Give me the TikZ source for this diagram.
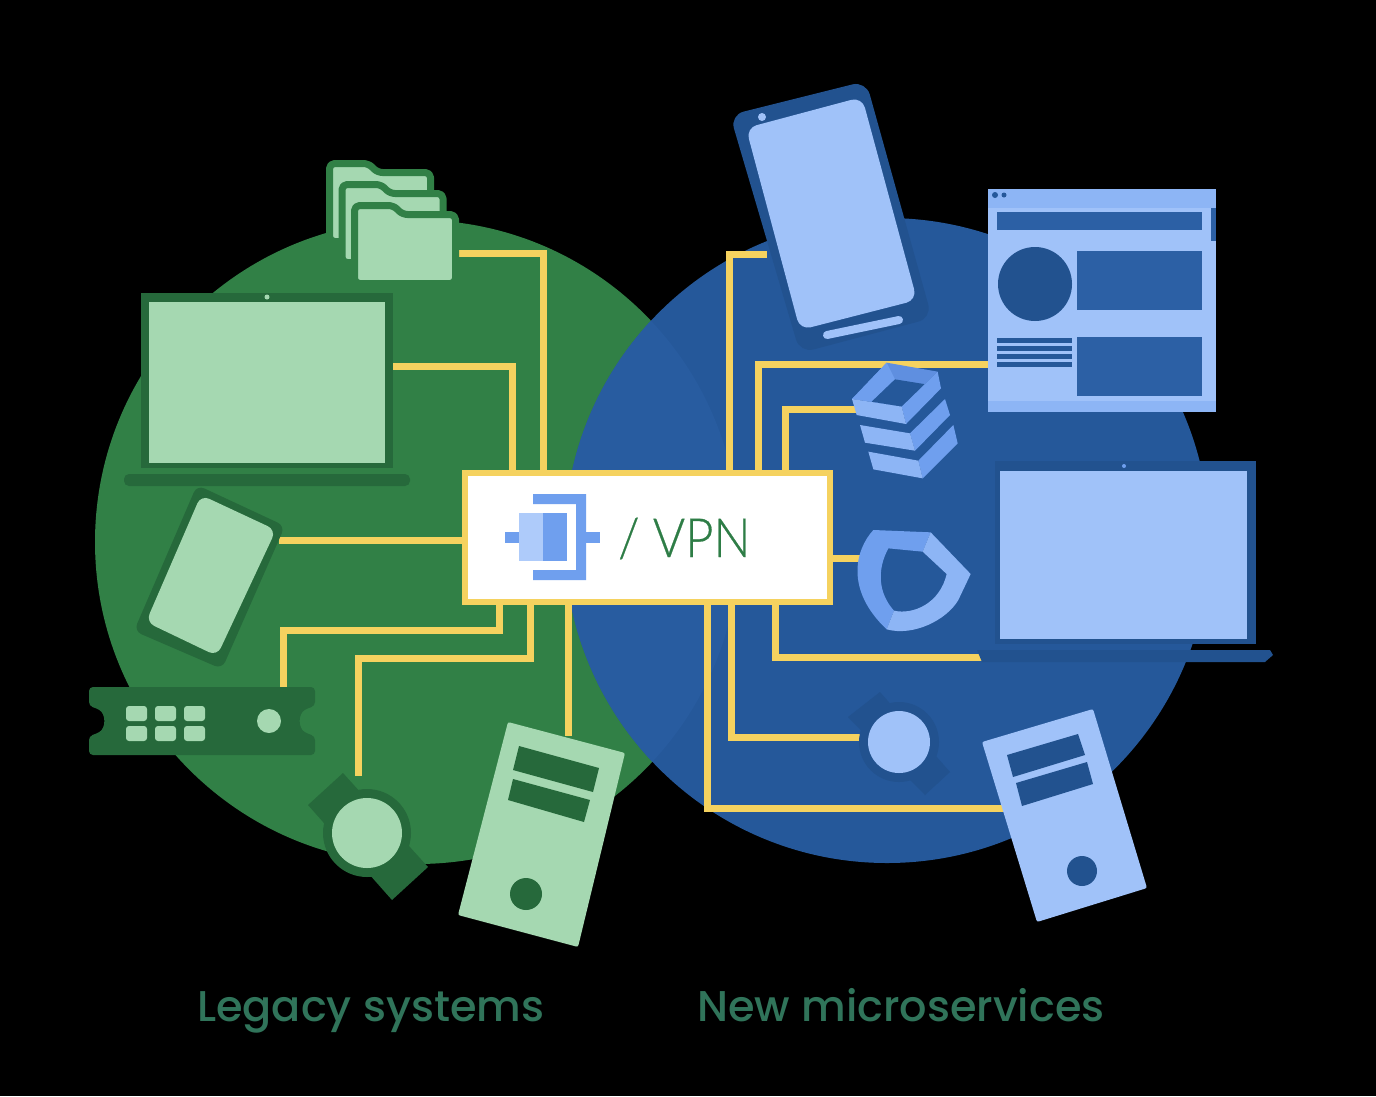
\documentclass[tikz,border=0pt]{standalone}
\usepackage{fontspec}
\setmainfont{Lato}
\newfontfamily\lblfont{Poppins Medium}
\newfontfamily\vpnfont[FakeBold=0.5]{Lato Light}
\begin{document}
\begin{tikzpicture}[x=1pt,y=-1pt,
  wire/.style={draw=wireyellow,line width=7pt,line join=miter},
  grn/.style={fill=greenc},
  grnd/.style={fill=greend},
  grnl/.style={fill=greenl},
  blu/.style={fill=bluec},
  blud/.style={fill=blued},
  blul/.style={fill=bluel},
  blum/.style={fill=bluem},
  bluf/.style={fill=bluef},
  lbl/.style={font=\lblfont\fontsize{43}{43}\selectfont,text=labelc,anchor=base west,inner sep=0pt},
  vpnbox/.style={draw=wireyellow,fill=white,line width=6pt,minimum width=365pt,minimum height=128.5pt,inner sep=0pt,outer sep=0pt}]
\definecolor{greenc}{HTML}{318046}
\definecolor{greend}{HTML}{26693B}
\definecolor{greenl}{HTML}{A5D8B1}
\definecolor{wireyellow}{HTML}{F5D25F}
\definecolor{bluec}{HTML}{25589A}
\definecolor{blued}{HTML}{22528F}
\definecolor{bluev}{HTML}{2C60A5}
\definecolor{bluelens}{HTML}{285CA0}
\definecolor{bluel}{HTML}{A0C2F9}
\definecolor{bluem}{HTML}{6F9FEE}
\definecolor{bluet}{HTML}{5F8FE0}
\definecolor{bluef}{HTML}{8DB5F5}
\definecolor{labelc}{HTML}{30745A}
\definecolor{textg}{HTML}{2E7D46}
\useasboundingbox (0,0) rectangle (1376,1096);
\fill[black] (0,0) rectangle (1376,1096);
% circles
\fill[grn] (417,542) circle (322);
\fill[blu] (887,540.5) circle (322.5);
\begin{scope}
\clip (417,542) circle (322);
\fill[fill=bluelens] (887,540.5) circle (322.5);
\end{scope}
% hub
\coordinate (vpnc) at (647.5,537.25);
% connector ends
\coordinate (eFolder) at (459,253);
\coordinate (eLapL) at (393,366);
\coordinate (ePhoneL) at (279,540.5);
\coordinate (eRack) at (283,688);
\coordinate (eWatchL) at (358,776);
\coordinate (eTowerL) at (568,736);
\coordinate (ePhoneR) at (767,254);
\coordinate (eBrowser) at (990,364);
\coordinate (eStack) at (858,409);
\coordinate (eShield) at (862,558.5);
\coordinate (eLapR) at (982,657.5);
\coordinate (eWatchR) at (860,737);
\coordinate (eTowerR) at (1006,808.5);
\node[vpnbox] (vpn) at (vpnc) {};
% connectors
\draw[wire] (eFolder) -| (vpn.north -| 543.5,0);
\draw[wire] (eLapL) -| (vpn.north -| 512,0);
\draw[wire] (ePhoneL) -- (vpn.west |- ePhoneL);
\draw[wire] (eRack) |- (499,630.5) -- (vpn.south -| 499,0);
\draw[wire] (eWatchL) |- (530,658) -- (vpn.south -| 530,0);
\draw[wire] (eTowerL) -- (vpn.south -| eTowerL);
\draw[wire] (ePhoneR) -| (vpn.north -| 729.5,0);
\draw[wire] (eBrowser) -| (vpn.north -| 758.5,0);
\draw[wire] (eStack) -| (vpn.north -| 785.5,0);
\draw[wire] (eShield) -- (vpn.east |- eShield);
\draw[wire] (eLapR) -| (vpn.south -| 775.5,0);
\draw[wire] (eWatchR) -| (vpn.south -| 731,0);
\draw[wire] (eTowerR) -| (vpn.south -| 707,0);
\node[vpnbox] (vpnfront) at (vpnc) {};
% VPN icon
\fill[blum] (505,532) rectangle (520,543);
\fill[blum] (585,532) rectangle (600,543);
\fill[blum] (533,494) -- (586,494) -- (586,580) -- (533,580) -- (533,570) -- (576,570) -- (576,504) -- (533,504) -- cycle;
\fill[fill=bluel!85!white] (519,513) rectangle (543,561);
\fill[blum] (543,513) rectangle (567,561);
\node[font=\vpnfont\fontsize{54}{54}\selectfont,text=textg,anchor=base west,inner sep=0pt,xscale=0.91] (vpnlabel) at (618,557) {/ VPN};
% folders
\foreach \dx/\dy in {-25/-42,-12.5/-21,0/0}{
  \begin{scope}[shift={(\dx,\dy)}]
  \draw[draw=greenc,line width=7pt,fill=greenl,rounded corners=5pt,line join=round]
    (354.5,205.5) -- (393.5,205.5) -- (402.5,214.5) -- (455.5,214.5) -- (455.5,283.5) -- (354.5,283.5) -- cycle;
  \end{scope}
}
% left laptop
\fill[grnd] (141,293) rectangle (393,468);
\fill[grnl] (149,302) rectangle (385,463);
\fill[grnl] (267,297) circle (2.5);
\fill[grnd,rounded corners=5pt] (124,474) rectangle (410,486);
% left phone
\fill[grnd,rounded corners=8pt] (197,485) -- (285,526) -- (222,669) -- (134,631) -- cycle;
\fill[grnl,rounded corners=9pt] (201,495) -- (276,530) -- (217,656) -- (146,622) -- cycle;
% rack
\fill[grnd,rounded corners=4pt] (89,687) -- (315,687) -- (315,706) -- (308,708)
  .. controls (298,714) and (298,728) .. (308,734) -- (315,736) -- (315,755) -- (89,755)
  -- (89,736) -- (96,734) .. controls (106,728) and (106,714) .. (96,708) -- (89,706) -- cycle;
\foreach \x in {126,155,184}\foreach \y in {706,726}{
  \fill[grnl,rounded corners=3pt] (\x,\y) rectangle ++(21,15);
}
\fill[grnl] (269,721) circle (12);
% left watch
\fill[grnd] (343,773) -- (308,805) -- (392,900) -- (428,867) -- cycle;
\fill[grnd] (367,833) circle (44);
\fill[grnl] (367,833) circle (35);
% left tower
\fill[grnl,rounded corners=2pt] (508,722) -- (625,753) -- (578,947) -- (458,915) -- cycle;
\fill[grnd] (519,746) -- (599,768) -- (593,792) -- (513,770) -- cycle;
\fill[grnd] (513,779) -- (590,800) -- (584,822) -- (508,800) -- cycle;
\fill[grnd] (526,894) circle (16);
% right phone
\fill[blud,rounded corners=14pt] (730,115) -- (866,81) -- (932,318) -- (800,353) -- cycle;
\fill[blul,rounded corners=11pt] (746,128) -- (862,97) -- (917,300) -- (800,330) -- cycle;
\draw[draw=bluel,line width=8pt,line cap=round] (827,335) -- (899,320);
\fill[blul] (762,117) circle (4);
% browser
\fill[blul] (988,189) rectangle (1216,412);
\fill[bluef] (988,189) rectangle (1216,208);
\fill[bluef] (988,401) rectangle (1216,412);
\fill[bluev] (1211,208) rectangle (1216,241);
\fill[bluec] (995,195) circle (3);
\fill[bluec] (1004,195) circle (2.5);
\fill[bluev] (997,212) rectangle (1202,230);
\fill[blued] (1035,284) circle (37);
\fill[bluev] (1077,251) rectangle (1202,310);
\fill[bluev] (1077,337) rectangle (1202,396);
\foreach \y in {338,346,354,362}{\fill[bluec] (997,\y) rectangle (1072,\y+5);}
% stack
\begin{scope}[shift={(840,350)},scale=1/3]
\fill[bluet] (36,147) -- (140,38) -- (293,65) -- (185,170) -- cycle;
\fill[blum] (36,147) -- (140,38) -- (165,88) -- (95,155) -- cycle;
\fill[bluec] (95,155) -- (165,88) -- (258,103) -- (185,170) -- cycle;
\fill[blum] (185,170) -- (293,65) -- (303,115) -- (198,222) -- cycle;
\fill[bluef] (36,147) -- (185,170) -- (198,222) -- (50,195) -- cycle;
\fill[blum] (210,250) -- (315,147) -- (330,195) -- (225,302) -- cycle;
\fill[bluef] (60,225) -- (210,250) -- (225,302) -- (75,278) -- cycle;
\fill[blum] (235,332) -- (340,225) -- (353,280) -- (248,385) -- cycle;
\fill[bluef] (85,305) -- (235,332) -- (248,385) -- (100,358) -- cycle;
% shield
\fill[blum] (100,540) -- (272,547) -- (248,605) -- (145,595) .. controls (110,660) and (115,730) .. (162,782) -- (140,838) .. controls (15,720) and (45,600) .. (100,540) -- cycle;
\fill[bluef] (272,547) -- (392,672) -- (355,750) .. controls (320,810) and (220,860) .. (140,838) -- (162,782) .. controls (220,795) and (300,760) .. (320,672) -- (248,605) -- cycle;
\end{scope}
% right laptop
\fill[blued] (995,461) rectangle (1256,644);
\fill[blul] (1000,471) rectangle (1247,639);
\fill[bluem] (1124,466) circle (2);
\fill[blued] (977,650) -- (1270,650) -- (1273,655) -- (1265,662) -- (982,662) -- cycle;
% right watch
\fill[blued] (848,717) -- (880,692) -- (950,772) -- (925,795) -- cycle;
\fill[blued] (899,742) circle (40);
\fill[blul] (899,742) circle (31);
% right tower
\fill[blul,rounded corners=2pt] (982,742) -- (1093,709) -- (1147,888) -- (1037,922) -- cycle;
\fill[blued] (1007,755) -- (1078,734) -- (1085,755) -- (1013,777) -- cycle;
\fill[blued] (1016,783) -- (1087,762) -- (1093,784) -- (1022,806) -- cycle;
\fill[blued] (1082,871) circle (15);
% labels
\node[lbl] (legacy) at (197,1021) {Legacy systems};
\node[lbl] (micro) at (697,1021) {New microservices};
\end{tikzpicture}
\end{document}
